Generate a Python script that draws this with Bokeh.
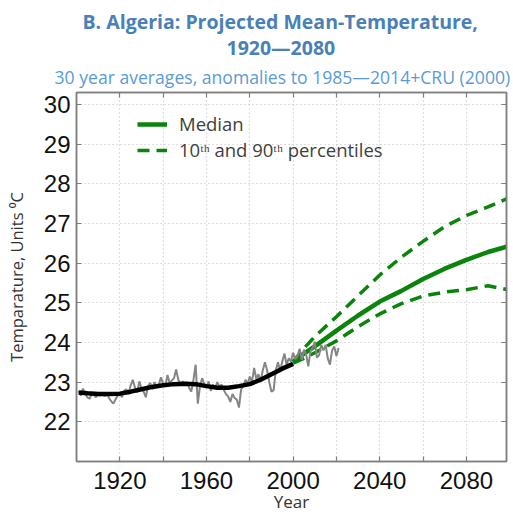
from bokeh.plotting import figure
from bokeh.models import Title, LinearAxis, FixedTicker, Legend, LegendItem, Range1d
from bokeh.embed import file_html
from bokeh.resources import INLINE

# ---------------- data ----------------
obs_years = list(range(1901, 2022))
obs_temp = [
    22.78, 22.66, 22.84, 22.70, 22.62, 22.58, 22.70, 22.68, 22.62, 22.70,  # 1901-1910
    22.66, 22.72, 22.64, 22.74, 22.60, 22.52, 22.46, 22.56, 22.66, 22.72,  # 1911-1920
    22.62, 22.78, 22.82, 22.70, 22.92, 23.06, 22.86, 22.74, 23.02, 22.84,  # 1921-1930
    22.76, 22.62, 22.90, 22.98, 22.82, 23.00, 22.88, 22.94, 23.12, 22.96,  # 1931-1940
    22.90, 23.18, 22.98, 23.04, 23.10, 23.32, 23.06, 22.96, 23.02, 22.92,  # 1941-1950
    23.00, 22.86, 22.76, 23.06, 23.44, 22.46, 22.90, 23.10, 22.94, 22.86,  # 1951-1960
    23.02, 22.78, 22.94, 22.84, 23.00, 22.88, 22.94, 22.80, 22.70, 22.64,  # 1961-1970
    22.50, 22.70, 22.60, 22.56, 22.36, 22.82, 22.90, 23.06, 22.96, 23.14,  # 1971-1980
    23.00, 23.36, 23.08, 23.20, 23.02, 23.30, 23.50, 23.30, 23.00, 22.76,  # 1981-1990
    22.80, 23.30, 23.50, 23.28, 23.52, 23.72, 23.44, 23.60, 23.52, 23.74,  # 1991-2000
    23.58, 23.66, 23.84, 23.56, 23.82, 23.70, 23.40, 23.78, 23.86, 24.02,  # 2001-2010
    23.62, 23.68, 23.94, 23.80, 23.94, 23.60, 23.44, 23.80, 23.90, 23.66,  # 2011-2020
    23.86,                                                                 # 2021
]

smooth_years = [1901, 1905, 1910, 1915, 1920, 1925, 1930, 1935, 1940, 1945,
                1950, 1955, 1960, 1965, 1970, 1975, 1980, 1985, 1990, 1995, 2000]
smooth_temp = [22.74, 22.72, 22.70, 22.70, 22.71, 22.76, 22.82, 22.88, 22.92, 22.95,
               22.96, 22.95, 22.90, 22.86, 22.86, 22.90, 22.95, 23.06, 23.20, 23.34, 23.46]

proj_years = [2000, 2005, 2010, 2020, 2030, 2040, 2050, 2060, 2070, 2080, 2090, 2099]
proj_median = [23.50, 23.72, 23.90, 24.30, 24.68, 25.03, 25.30, 25.60, 25.86, 26.08, 26.28, 26.42]
proj_p90 = [23.52, 23.85, 24.15, 24.65, 25.18, 25.70, 26.15, 26.55, 26.92, 27.20, 27.42, 27.63]
proj_p10 = [23.48, 23.60, 23.74, 24.04, 24.40, 24.72, 24.98, 25.17, 25.27, 25.33, 25.43, 25.33]

x_label_ticks = [1920, 1960, 2000, 2040, 2080]
x_minor_ticks = [1940, 1980, 2020, 2060]
x_all_ticks = sorted(x_label_ticks + x_minor_ticks)
y_ticks = [22, 23, 24, 25, 26, 27, 28, 29, 30]

title_1 = "B. Algeria: Projected Mean-Temperature,"
title_2 = "1920\u20142080"
subtitle = "30 year averages, anomalies to 1985\u20142014+CRU (2000)"
y_label = "Temparature, Units \u2070C"
x_label = "Year"
legend_labels = ["Median", "10\u1d57\u02b0 and 90\u1d57\u02b0 percentiles"]

# ---------------- styles ----------------
GREEN = "#0b840b"
FRAME = "#7f7f7f"
TICK_FONT = "Liberation Sans"
TEXT_FONT = "Open Sans"

p = figure(width=513, height=515,
           x_range=Range1d(1900, 2098.5), y_range=Range1d(21.0, 30.3),
           output_backend="svg", toolbar_location=None,
           min_border_left=76, min_border_right=7,
           min_border_top=92, min_border_bottom=53)
p.background_fill_color = "white"
p.border_fill_color = "white"
p.outline_line_color = FRAME
p.outline_line_width = 1.5

xax = p.below[0]
yax = p.left[0]


def tick_style(ax):
    ax.axis_line_color = FRAME
    ax.axis_line_width = 1.5
    for k in ("major", "minor"):
        setattr(ax, k + "_tick_line_color", FRAME)
        setattr(ax, k + "_tick_line_width", 1.2)
        setattr(ax, k + "_tick_in", 5)
        setattr(ax, k + "_tick_out", 0)


# unlabeled tick-only axes on top and right (only minor ticks -> no label texts)
tax = LinearAxis(ticker=FixedTicker(ticks=[], minor_ticks=x_all_ticks),
                 major_label_standoff=0)
tick_style(tax)
p.add_layout(tax, "above")
rax = LinearAxis(ticker=FixedTicker(ticks=[], minor_ticks=y_ticks),
                 major_label_standoff=0)
tick_style(rax)
p.add_layout(rax, "right")

# titles (first added sits closest to the frame)
for txt, size, color, style, standoff, offset in [
        (subtitle, "17.6px", "#5b9bd5", "normal", 7, -22),
        (title_2, "19.5px", "#4a80b8", "bold", -3, 150),
        (title_1, "19.5px", "#4a80b8", "bold", -3.5, 6)]:
    p.add_layout(Title(text=txt, align="left", offset=offset, text_font=TEXT_FONT,
                       text_font_size=size, text_color=color,
                       text_font_style=style, standoff=standoff), "above")

# bottom axis
xax.ticker = FixedTicker(ticks=x_label_ticks, minor_ticks=x_minor_ticks)
tick_style(xax)
xax.major_label_text_font = TICK_FONT
xax.major_label_text_font_size = "24px"
xax.major_label_text_color = "#111111"
xax.major_label_standoff = 10
xax.axis_label = x_label
xax.axis_label_text_font = TEXT_FONT
xax.axis_label_text_font_size = "17px"
xax.axis_label_text_font_style = "normal"
xax.axis_label_text_color = "#333333"
xax.axis_label_standoff = -2

# left axis
yax.ticker = FixedTicker(ticks=y_ticks)
tick_style(yax)
yax.major_label_text_font = TICK_FONT
yax.major_label_text_font_size = "24px"
yax.major_label_text_color = "#111111"
yax.major_label_standoff = 6
yax.axis_label = y_label
yax.axis_label_text_font = TEXT_FONT
yax.axis_label_text_font_size = "16.5px"
yax.axis_label_text_font_style = "normal"
yax.axis_label_text_color = "#333333"
yax.axis_label_standoff = 13

# grid
p.xgrid.ticker = FixedTicker(ticks=x_label_ticks, minor_ticks=x_minor_ticks)
p.ygrid.ticker = FixedTicker(ticks=y_ticks)
for g in (p.xgrid[0], p.ygrid[0]):
    g.grid_line_color = "#bdbdbd"
    g.grid_line_dash = "1 3"
    g.grid_line_width = 1.2
p.xgrid.minor_grid_line_color = "#bdbdbd"
p.xgrid.minor_grid_line_dash = "1 3"
p.xgrid.minor_grid_line_width = 1.2

# data
r_p90 = p.line(proj_years, proj_p90, line_color=GREEN, line_width=3.5, line_dash="12 7")
r_p10 = p.line(proj_years, proj_p10, line_color=GREEN, line_width=3.5, line_dash="12 7")
r_med = p.line(proj_years, proj_median, line_color=GREEN, line_width=4.5)
p.line(obs_years, obs_temp, line_color="#858585", line_width=2)
p.line(smooth_years, smooth_temp, line_color="black", line_width=4.5)

# legend: one box per entry so the line spacing can be tight
for label, rend, loc in [(legend_labels[0], r_med, (61, 325)),
                         (legend_labels[1], r_p90, (61, 299))]:
    lg = Legend(items=[LegendItem(label=label, renderers=[rend])],
                location=loc, margin=0, padding=0, spacing=0,
                glyph_width=30, glyph_height=24, label_height=24, label_standoff=12,
                label_text_font=TEXT_FONT, label_text_font_size="18.5px",
                label_text_color="#404040",
                background_fill_alpha=0, border_line_alpha=0)
    p.add_layout(lg, "center")

open("out.html", "w").write(file_html(p, INLINE))
